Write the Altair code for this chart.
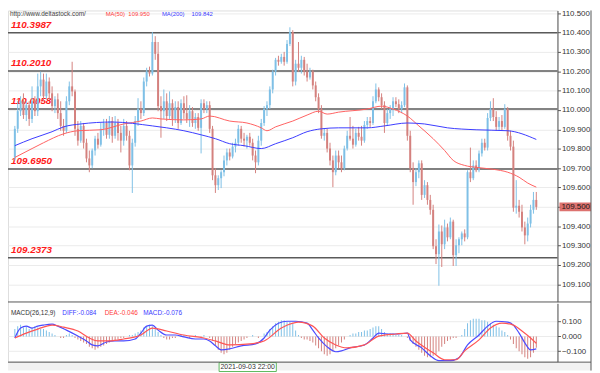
import altair as alt
import pandas as pd

# ---------------- data ----------------
opens = [109.755,109.903,109.994,110.045,109.974,110.025,109.954,110.045,109.994,110.122,
110.157,110.071,110.147,110.086,110.020,110.055,109.984,109.918,109.893,110.045,
110.122,110.096,109.903,109.842,109.918,109.831,109.750,109.714,109.791,109.852,
109.821,109.903,109.933,109.872,109.943,109.867,109.933,109.882,109.842,109.918,
109.867,109.714,109.831,109.943,110.005,109.984,110.147,110.198,110.188,110.351,
110.290,110.020,109.994,110.045,109.969,110.035,109.954,110.015,109.933,110.035,
109.984,109.954,109.994,109.933,109.964,109.908,110.035,110.005,110.025,109.903,
109.663,109.612,109.648,109.679,109.740,109.781,109.760,109.811,109.831,109.903,
109.852,109.842,109.862,109.831,109.765,109.730,109.842,109.933,110.005,110.025,
110.106,110.198,110.259,110.249,110.274,110.249,110.341,110.402,110.147,110.239,
110.218,110.259,110.198,110.168,110.198,110.127,110.066,110.005,109.867,109.882,
109.801,109.740,109.679,109.765,109.730,109.699,109.801,109.867,109.852,109.821,
109.882,109.862,109.842,109.923,109.943,109.933,110.045,110.106,110.066,110.025,
109.933,109.984,110.005,110.045,110.030,110.005,110.025,110.117,109.867,109.699,
109.628,109.679,109.725,109.562,109.612,109.536,109.485,109.297,109.256,109.373,
109.307,109.394,109.343,109.424,109.251,109.302,109.333,109.363,109.343,109.679,
109.648,109.714,109.689,109.776,109.831,109.806,109.959,110.005,109.964,109.913,
109.943,109.913,110.005,109.867,109.811,109.496,109.506,109.475,109.394,109.353,
109.414,109.485,109.536]
highs = [109.918,110.045,110.071,110.086,110.045,110.045,110.122,110.071,110.188,110.198,
110.188,110.188,110.168,110.122,110.071,110.086,110.045,109.954,110.071,110.147,
110.249,110.106,109.943,109.943,109.933,109.852,109.791,109.801,109.867,109.882,
109.933,109.954,109.954,109.969,109.964,109.969,109.954,109.918,109.954,109.943,
109.893,109.852,109.969,110.061,110.045,110.168,110.218,110.224,110.402,110.381,
110.351,110.071,110.106,110.086,110.096,110.055,110.045,110.045,110.055,110.071,
110.076,110.025,110.015,109.984,109.984,110.055,110.055,110.045,110.045,109.918,
109.699,109.663,109.689,109.765,109.801,109.801,109.831,109.852,109.923,109.918,
109.882,109.872,109.882,109.852,109.791,109.867,109.954,110.020,110.045,110.122,
110.208,110.269,110.280,110.290,110.300,110.361,110.427,110.412,110.259,110.351,
110.280,110.274,110.239,110.218,110.208,110.147,110.086,110.025,109.903,109.903,
109.831,109.765,109.791,109.791,109.765,109.816,109.893,109.964,109.918,109.903,
109.913,109.918,109.943,109.964,109.964,110.071,110.137,110.117,110.086,110.045,
110.005,110.025,110.066,110.066,110.055,110.045,110.137,110.127,109.893,109.730,
109.699,109.740,109.740,109.638,109.628,109.562,109.511,109.333,109.409,109.404,
109.434,109.414,109.445,109.434,109.333,109.343,109.373,109.384,109.689,109.806,
109.740,109.740,109.791,109.852,109.852,109.984,110.045,110.061,109.994,109.964,
109.974,110.030,110.015,109.893,109.842,109.638,109.536,109.511,109.424,109.445,
109.511,109.577,109.577]
lows = [109.740,109.882,109.969,109.954,109.943,109.918,109.933,109.969,109.969,110.071,
110.045,110.055,110.055,109.994,109.984,109.954,109.893,109.867,109.882,110.025,
110.071,109.867,109.816,109.831,109.801,109.730,109.679,109.699,109.765,109.801,
109.811,109.867,109.852,109.852,109.831,109.852,109.842,109.781,109.816,109.842,
109.689,109.572,109.811,109.918,109.954,109.969,110.122,110.173,110.178,110.259,
109.994,109.857,109.954,109.943,109.954,109.918,109.933,109.903,109.923,109.954,
109.933,109.913,109.913,109.903,109.893,109.776,109.984,109.984,109.882,109.638,
109.572,109.587,109.597,109.658,109.714,109.740,109.750,109.781,109.816,109.831,
109.811,109.801,109.816,109.740,109.674,109.714,109.816,109.918,109.969,110.005,
110.086,110.178,110.229,110.239,110.229,110.239,110.330,110.122,110.127,110.198,
110.188,110.178,110.147,110.157,110.106,110.045,109.984,109.852,109.842,109.781,
109.714,109.602,109.663,109.699,109.679,109.689,109.791,109.842,109.801,109.811,
109.842,109.816,109.831,109.903,109.913,109.923,110.035,110.045,110.005,109.882,
109.918,109.954,109.969,110.015,109.984,109.984,110.015,109.842,109.679,109.511,
109.607,109.648,109.536,109.546,109.511,109.460,109.282,109.205,109.093,109.190,
109.282,109.322,109.333,109.195,109.195,109.261,109.302,109.322,109.333,109.628,
109.638,109.679,109.679,109.760,109.791,109.791,109.943,109.943,109.893,109.893,
109.893,109.903,109.842,109.791,109.475,109.465,109.445,109.373,109.307,109.322,
109.394,109.465,109.485]
closes = [109.903,109.994,110.045,109.974,110.025,109.954,110.045,109.994,110.122,110.157,
110.071,110.147,110.086,110.020,110.055,109.984,109.918,109.893,110.045,110.122,
110.096,109.903,109.842,109.918,109.831,109.750,109.714,109.791,109.852,109.821,
109.903,109.933,109.872,109.943,109.867,109.933,109.882,109.842,109.918,109.867,
109.714,109.831,109.943,110.005,109.984,110.147,110.198,110.188,110.351,110.290,
110.020,109.994,110.045,109.969,110.035,109.954,110.015,109.933,110.035,109.984,
109.954,109.994,109.933,109.964,109.908,110.035,110.005,110.025,109.903,109.663,
109.612,109.648,109.679,109.740,109.781,109.760,109.811,109.831,109.903,109.852,
109.842,109.862,109.831,109.765,109.730,109.842,109.933,110.005,110.025,110.106,
110.198,110.259,110.249,110.274,110.249,110.341,110.402,110.147,110.239,110.218,
110.259,110.198,110.168,110.198,110.127,110.066,110.005,109.867,109.882,109.801,
109.740,109.679,109.765,109.730,109.699,109.801,109.867,109.852,109.821,109.882,
109.862,109.842,109.923,109.943,109.933,110.045,110.106,110.066,110.025,109.933,
109.984,110.005,110.045,110.030,110.005,110.025,110.117,109.867,109.699,109.628,
109.679,109.725,109.562,109.612,109.536,109.485,109.297,109.256,109.373,109.307,
109.394,109.343,109.424,109.251,109.302,109.333,109.363,109.343,109.679,109.648,
109.714,109.689,109.776,109.831,109.806,109.959,110.005,109.964,109.913,109.943,
109.913,110.005,109.867,109.811,109.496,109.506,109.475,109.394,109.353,109.414,
109.485,109.536,109.500]

ma50_idx = [0,6,10,17,22,30,38,44,48,51,59,65,68,75,81,86,88,91,97,102,
            106,109,113,123,128,132,137,141,146,150,153,157,161,167,172,176,179,182]
ma50_val = [109.755,109.801,109.831,109.877,109.893,109.898,109.928,109.943,109.959,109.954,
            109.949,109.954,109.969,109.943,109.933,109.908,109.893,109.913,109.943,109.974,
            109.994,109.979,109.989,110.005,110.020,110.005,109.969,109.918,109.852,109.791,
            109.740,109.714,109.704,109.694,109.679,109.653,109.623,109.602]
ma200_idx = [0,6,13,17,23,34,48,53,59,65,70,75,80,86,91,97,102,107,113,123,
             129,137,143,151,161,172,182]
ma200_val = [109.816,109.852,109.888,109.913,109.928,109.938,109.918,109.908,109.893,109.872,
             109.852,109.826,109.816,109.801,109.826,109.857,109.888,109.903,109.908,109.908,
             109.918,109.933,109.928,109.908,109.898,109.893,109.848]

macd_hist = [0.05,0.07,0.08,0.06,0.07,0.05,0.06,0.07,0.06,0.05,0.05,0.04,0.03,0.02,
             0.01,0.0,-0.01,-0.01,0.01,0.02,0.01,-0.01,
             -0.02,-0.03,-0.04,-0.05,-0.07,-0.08,-0.09,-0.08,-0.07,-0.06,-0.05,-0.04,-0.03,-0.03,
             -0.02,-0.01,-0.01,0.0,0.01,0.01,
             0.02,0.03,0.04,0.06,0.07,0.08,0.07,0.05,0.03,
             0.01,-0.01,-0.02,-0.02,-0.01,-0.01,0.0,0.01,0.01,0.0,-0.01,0.0,0.01,0.0,-0.01,0.01,0.0,-0.01,
             -0.03,-0.06,-0.09,-0.11,-0.12,-0.11,-0.09,-0.07,-0.05,-0.04,-0.03,
             -0.02,-0.01,0.0,0.01,0.0,-0.01,0.0,
             0.02,0.03,0.05,0.07,0.09,0.10,0.11,0.11,0.10,0.10,0.09,0.04,0.01,
             -0.01,-0.02,-0.02,-0.03,-0.04,-0.06,-0.08,-0.10,-0.12,-0.13,-0.12,-0.10,-0.08,-0.06,-0.04,-0.02,
             0.0,0.01,0.02,0.02,0.03,0.03,0.04,0.04,0.05,0.06,0.07,0.07,0.05,0.03,
             0.02,0.02,0.02,0.01,0.01,0.01,0.0,
             -0.01,-0.03,-0.05,-0.07,-0.09,-0.11,-0.13,-0.14,-0.14,-0.13,-0.12,-0.10,-0.07,-0.05,-0.03,-0.02,
             -0.01,-0.01,0.0,0.01,
             0.05,0.09,0.11,0.12,0.12,0.12,0.11,0.11,0.10,0.09,0.08,0.07,0.06,0.04,0.03,0.01,
             -0.02,-0.05,-0.08,-0.10,-0.12,-0.14,-0.15,-0.14,-0.11,-0.076]

diff_idx = [0,2,4,6,8,10,13,15,18,22,25,27,29,32,35,38,42,44,46,48,
            50,53,56,59,63,66,68,70,72,75,79,84,87,89,92,95,98,102,104,106,
            109,112,114,117,122,125,127,130,134,137,138,142,145,148,152,155,158,162,165,168,
            172,174,176,178,180,182]
diff_val = [-0.010,0.057,0.070,0.057,0.070,0.077,0.083,0.070,0.043,0.003,
            -0.030,-0.057,-0.063,-0.037,-0.030,-0.030,-0.017,0.023,0.070,0.077,
            0.043,0.010,0.010,-0.003,-0.017,-0.017,-0.030,-0.063,-0.090,-0.083,
            -0.063,-0.050,-0.010,0.043,0.090,0.103,0.103,0.090,0.043,-0.010,
            -0.070,-0.103,-0.097,-0.077,-0.057,-0.010,0.023,0.017,0.017,0.023,
            -0.023,-0.077,-0.130,-0.163,-0.163,-0.143,-0.057,0.010,0.070,0.103,
            0.097,0.077,0.023,-0.043,-0.090,-0.084]
dea_idx = [0,4,8,13,17,22,26,29,33,38,44,48,53,59,66,70,75,82,87,93,
           97,99,104,108,112,116,122,127,133,137,140,146,150,154,157,162,166,170,174,177,
           180,182]
dea_val = [-0.010,0.023,0.050,0.077,0.063,0.037,-0.010,-0.030,-0.030,-0.017,
           0.010,0.057,0.037,0.010,-0.010,-0.030,-0.057,-0.050,-0.030,0.057,
           0.090,0.097,0.070,-0.010,-0.057,-0.077,-0.057,0.003,0.017,0.023,
           -0.030,-0.110,-0.157,-0.157,-0.097,-0.023,0.057,0.090,0.077,0.037,
           -0.010,-0.046]

levels = [110.3987, 110.2010, 110.0058, 109.6950, 109.2373]
level_labels = ["110.3987", "110.2010", "110.0058", "109.6950", "109.2373"]
price_ticks = [109.1, 109.2, 109.3, 109.4, 109.5, 109.6, 109.7, 109.8, 109.9,
               110.0, 110.1, 110.2, 110.3, 110.4, 110.5]
macd_ticks = [-0.1, 0.0, 0.1]
last_price = 109.500

# ---------------- layout / styles ----------------
W, H, MAIN_B = 557, 356, 295
FONT = "Liberation Sans"
UP, DOWN = "#3b9fd9", "#bd3935"
UP_W, DOWN_W = "#7fc0e6", "#d4817e"

xs = alt.Scale(domain=[-0.667, 187.667], nice=False, zero=False)
ps = alt.Scale(domain=[109.0118, 110.5138], range=[MAIN_B, 0], nice=False, zero=False)
ms = alt.Scale(domain=[-0.17, 0.2233], range=[H, 297], nice=False, zero=False)
X = alt.X("i:Q", scale=xs, axis=None)

n = len(closes)
cdf = pd.DataFrame({"i": list(range(n)), "open": opens, "high": highs,
                    "low": lows, "close": closes})
cdf["dir"] = ["up" if c >= o else "down" for o, c in zip(opens, closes)]

price_axis = alt.Axis(orient="right", values=price_ticks, format=".3f", grid=True,
                      gridColor="#ebebeb", domainColor="#555", tickColor="#555",
                      tickSize=3, labelPadding=1, labelFont=FONT, labelFontSize=8,
                      labelColor="#333", title=None, labelOverlap=False)
macd_axis = alt.Axis(orient="right", values=macd_ticks, format=".3f", grid=True,
                     gridColor="#ebebeb", domainColor="#555", tickColor="#555",
                     tickSize=3, labelPadding=1, labelFont=FONT, labelFontSize=8,
                     labelColor="#333", title=None, labelOverlap=False)

lv = pd.DataFrame({"level": levels, "label": level_labels})
support = alt.Chart(lv).mark_rule(color="#5a5a5a", strokeWidth=1.5).encode(
    x=alt.value(0), x2=alt.value(W), y=alt.Y("level:Q", scale=ps, axis=price_axis))
support_txt = alt.Chart(lv).mark_text(align="left", baseline="middle", dy=-8, font=FONT,
                                      fontSize=10, fontWeight="bold", fontStyle="italic",
                                      color="#ff1a1a").encode(
    x=alt.value(3), y=alt.Y("level:Q", scale=ps, axis=None), text="label:N")

dir_col = alt.Color("dir:N", scale=alt.Scale(domain=["up", "down"], range=[UP, DOWN]), legend=None)
dir_wcol = alt.Color("dir:N", scale=alt.Scale(domain=["up", "down"], range=[UP_W, DOWN_W]), legend=None)
wicks = alt.Chart(cdf).mark_rule(strokeWidth=1).encode(
    x=X, y=alt.Y("low:Q", scale=ps, axis=None), y2="high:Q", color=dir_wcol)
bodies = alt.Chart(cdf).mark_bar(size=2).encode(
    x=X, y=alt.Y("open:Q", scale=ps, axis=None), y2="close:Q", color=dir_col)

ma50 = alt.Chart(pd.DataFrame({"i": ma50_idx, "v": ma50_val})).mark_line(
    color="#ff6161", strokeWidth=1, interpolate="monotone").encode(
    x=X, y=alt.Y("v:Q", scale=ps, axis=None))
ma200 = alt.Chart(pd.DataFrame({"i": ma200_idx, "v": ma200_val})).mark_line(
    color="#3a3aff", strokeWidth=1, interpolate="monotone").encode(
    x=X, y=alt.Y("v:Q", scale=ps, axis=None))

# MACD panel
hdf = pd.DataFrame({"i": list(range(len(macd_hist))), "h": macd_hist,
                    "z": [0.0] * len(macd_hist)})
hdf["sgn"] = ["pos" if h >= 0 else "neg" for h in macd_hist]
hist = alt.Chart(hdf).mark_bar(size=1).encode(
    x=X, y=alt.Y("h:Q", scale=ms, axis=macd_axis), y2="z:Q",
    color=alt.Color("sgn:N", scale=alt.Scale(domain=["pos", "neg"],
                                             range=["#82c1e3", "#cc7a78"]), legend=None))
diff_line = alt.Chart(pd.DataFrame({"i": diff_idx, "v": diff_val})).mark_line(
    color="#4b4bff", strokeWidth=1.2, interpolate="monotone").encode(
    x=X, y=alt.Y("v:Q", scale=ms, axis=None))
dea_line = alt.Chart(pd.DataFrame({"i": dea_idx, "v": dea_val})).mark_line(
    color="#ff5555", strokeWidth=1.2, interpolate="monotone").encode(
    x=X, y=alt.Y("v:Q", scale=ms, axis=None))

one = pd.DataFrame({"a": [0]})


def rule(x, x2, y, y2, color="#555", w=1):
    return alt.Chart(one).mark_rule(color=color, strokeWidth=w).encode(
        x=alt.value(x), x2=alt.value(x2), y=alt.value(y), y2=alt.value(y2))


def txt(t, x, y, color, size=7, weight="normal", align="left"):
    return alt.Chart(pd.DataFrame({"t": [t]})).mark_text(
        align=align, baseline="middle", font=FONT, fontSize=size, fontWeight=weight,
        color=color).encode(x=alt.value(x), y=alt.value(y), text="t:N")


borders = [rule(0, 591, MAIN_B + 0.5, MAIN_B + 0.5, "#555"),
           rule(0, 591, H + 0.5, H + 0.5, "#555"),
           rule(591, 591, 0, 365, "#555")]

header = [txt("http://www.deltastock.com/", 2, 4, "#444", size=6.5),
          txt("MA(50)", 99, 4, "#ff3b3b", size=6),
          txt("109.950", 122, 4, "#ff3b3b", size=6),
          txt("MA(200)", 156, 4, "#3b3bff", size=6),
          txt("109.842", 186, 4, "#3b3bff", size=6)]
macd_header = [txt("MACD(26,12,9)", 3, 307, "#333", size=6.5),
               txt("DIFF:-0.084", 55, 307, "#3b3bff", size=6.5),
               txt("DEA:-0.046", 98, 307, "#ff3b3b", size=6.5),
               txt("MACD:-0.076", 137, 307, "#3b3bff", size=6.5)]

# current price tag on the right axis
pbox_df = pd.DataFrame({"y1": [last_price + 0.023], "y2": [last_price - 0.023],
                        "p": [last_price], "t": [f"{last_price:.3f}"]})
pbox = alt.Chart(pbox_df).mark_rect(fill="#d9635f", opacity=0.9).encode(
    x=alt.value(559), x2=alt.value(591), y=alt.Y("y1:Q", scale=ps, axis=None), y2="y2:Q")
ptxt = alt.Chart(pbox_df).mark_text(align="left", baseline="middle", font=FONT,
                                    fontSize=8, color="#222").encode(
    x=alt.value(561), y=alt.Y("p:Q", scale=ps, axis=None), text="t:N")

# bottom time strip
strip = alt.Chart(one).mark_rect(fill="#f2f2f2").encode(
    x=alt.value(0), x2=alt.value(591), y=alt.value(H + 1), y2=alt.value(365))
dbox = alt.Chart(one).mark_rect(fill="#ffffff", stroke="#5cb85c", strokeWidth=1).encode(
    x=alt.value(214), x2=alt.value(272), y=alt.value(H + 1), y2=alt.value(366))
dtxt = txt("2021-09-03 22:00", 243, 361, "#333", size=7, align="center")

layers = ([support, support_txt, wicks, bodies, ma50, ma200,
           hist, diff_line, dea_line, pbox, ptxt, strip, dbox, dtxt]
          + borders + header + macd_header)

chart = alt.layer(*layers).resolve_scale(y="independent").properties(
    width=W, height=H,
    autosize=alt.AutoSizeParams(type="none"),
    padding={"left": 0, "top": 0, "right": 35, "bottom": 9},
).configure_view(stroke=None).configure(background="white")

chart.save("out.html", embed_options={"renderer": "svg", "actions": False})
